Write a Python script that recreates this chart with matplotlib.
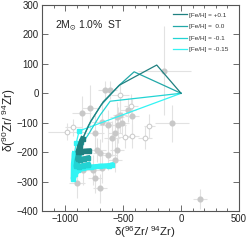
import numpy as np
import matplotlib
matplotlib.use("Agg")
import matplotlib.pyplot as plt
from matplotlib.ticker import MultipleLocator

plt.rcParams["font.family"] = ["Liberation Sans", "DejaVu Sans"]
plt.rcParams["mathtext.fontset"] = "custom"
plt.rcParams["mathtext.rm"] = "Liberation Sans"
plt.rcParams["mathtext.it"] = "Liberation Sans:italic"
plt.rcParams["mathtext.default"] = "regular"

# grain data: x, y, xerr, yerr
filled_x = [-80, 164, -144, -656, -613, -857, -785, -684, -555, -541, -512, -455, -742,
            -627, -526, -569, -598, -727, -699, -627, -555, -569, -757, -684, -843, -900,
            -742, -699, -420]
filled_y = [-102, -360, 77, 11, 11, -68, -51, -96, -80, -108, -102, -57, -134,
            -108, -74, -136, -153, -193, -204, -210, -193, -227, -261, -255, -261, -306,
            -289, -323, -78]
filled_xerr = [147, 58, 230, 60, 60, 80, 70, 90, 60, 70, 60, 70, 80,
               80, 60, 60, 70, 80, 60, 70, 60, 60, 70, 60, 60, 70,
               60, 60, 60]
filled_yerr = [62, 34, 150, 30, 30, 60, 80, 70, 50, 60, 40, 40, 60,
               50, 60, 50, 60, 40, 50, 50, 40, 40, 50, 50, 50, 50,
               50, 50, 60]

open_x = [-526, -430, -929, -986, -273, -425, -310, -483]
open_y = [-6, -42, -116, -130, -111, -145, -151, -147]
open_xerr = [80, 60, 70, 160, 50, 60, 60, 60]
open_yerr = [40, 40, 30, 30, 40, 40, 40, 40]

# model tracks; thick part (C>O) starts at index k, squares from index m
labels = ["[Fe/H] = +0.1", "[Fe/H] =  0.0", "[Fe/H] = -0.1", "[Fe/H] = -0.15"]
colors = ["#1f8080", "#22a8a8", "#22d4d4", "#33f4f4"]
trk_x = [
    [0, -210, -380, -530, -670, -780, -850, -875, -888, -860, -830, -795],
    [0, -405, -540, -690, -800, -860, -880, -892, -870, -840, -805],
    [0, -612, -700, -800, -860, -885, -900, -905, -880, -850, -820, -800],
    [0, -880, -905, -920, -928, -930, -915, -890, -850, -780, -700, -620, -600],
]
trk_y = [
    [0, 96, 60, 28, -28, -95, -155, -180, -198, -198, -197, -196],
    [0, 73, 25, -40, -110, -165, -200, -224, -226, -223, -220],
    [0, -27, -75, -140, -175, -205, -230, -248, -250, -246, -244, -242],
    [0, -128, -170, -205, -240, -290, -275, -262, -255, -251, -248, -246, -244],
]
trk_k = [6, 5, 5, 3]
trk_m = [6, 5, 5, 1]

fig = plt.figure(figsize=(2.49, 2.40), dpi=100)
ax = fig.add_axes([42 / 249, 29 / 240, 197 / 249, 206 / 240])

ax.errorbar(filled_x, filled_y, xerr=filled_xerr, yerr=filled_yerr, fmt="o",
            ms=3.4, color="#c8c8c8", ecolor="#e2e2e2", elinewidth=0.8, capsize=0, zorder=1)
ax.errorbar(open_x, open_y, xerr=open_xerr, yerr=open_yerr, fmt="o",
            ms=3.4, mfc="white", mec="#c8c8c8", mew=0.7, ecolor="#e2e2e2",
            elinewidth=0.8, capsize=0, zorder=1)

for i in range(4)[::-1]:
    x = np.array(trk_x[i])
    y = np.array(trk_y[i])
    k = trk_k[i]
    m = trk_m[i]
    z = 3 + (3 - i)
    ax.plot(x, y, color=colors[i], lw=0.9, label=labels[i], zorder=z)
    ax.plot(x[k:], y[k:], color=colors[i], lw=3.8, zorder=z)
    ax.plot(x[m:], y[m:], ls="none", marker="s", ms=3.3, color=colors[i], zorder=z)

h, l = ax.get_legend_handles_labels()
leg = ax.legend(h[::-1], l[::-1], loc="upper left", bbox_to_anchor=(0.665, 0.965),
                frameon=False, fontsize=4.6, handlelength=2.2, handletextpad=0.3,
                labelspacing=0.95, borderpad=0, borderaxespad=0)
for t in leg.get_texts():
    t.set_color("#333333")

ax.text(0.065, 0.9, r"2M$_{\odot}$ 1.0%  ST", transform=ax.transAxes,
        fontsize=7.5, va="center", ha="left", color="#222222")

ax.set_xlim(-1200, 500)
ax.set_ylim(-400, 300)
ax.xaxis.set_major_locator(MultipleLocator(500))
ax.xaxis.set_minor_locator(MultipleLocator(100))
ax.yaxis.set_major_locator(MultipleLocator(100))
ax.tick_params(which="both", direction="in", top=True, right=True,
               labelsize=6.9, color="#555555", labelcolor="#222222")
ax.tick_params(which="major", length=4, width=0.6, pad=2.5)
ax.tick_params(which="minor", length=2.2, width=0.6)
for s in ax.spines.values():
    s.set_color("#555555")
    s.set_linewidth(0.8)

ax.set_xlabel("δ($^{96}$Zr/ $^{94}$Zr)", fontsize=8.2, color="#222222", va="center")
ax.set_ylabel("δ($^{90}$Zr/ $^{94}$Zr)", fontsize=8.5, color="#222222", va="center",
              ha="center", rotation_mode="anchor")
ax.xaxis.set_label_coords(0.52, -0.1)
ax.yaxis.set_label_coords(-0.168, 0.44)

fig.savefig("out.png", dpi=100)
